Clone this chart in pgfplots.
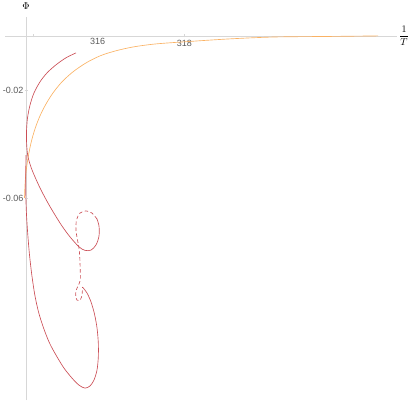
\documentclass[border=0pt]{standalone}
\usepackage{fontspec}
\setmainfont{Liberation Sans}
\usepackage{pgfplots}
\pgfplotsset{compat=1.18}
\definecolor{redc}{RGB}{203,78,86}
\definecolor{orac}{RGB}{250,178,100}
\definecolor{axc}{RGB}{215,215,215}
\definecolor{txc}{RGB}{90,90,90}

\begin{document}
\begin{tikzpicture}
\begin{axis}[
  at={(5pt,9pt)}, anchor=south west,
  scale only axis, width=392pt, height=383pt,
  xmin=-0.483, xmax=8.529, ymin=-0.1348, ymax=0.0070,
  axis lines=middle,
  axis line style={draw=axc, line width=0.5pt, -},
  xtick={0.168,3.639}, xticklabels={,318},
  extra x ticks={1.648}, extra x tick labels={316},
  extra x tick style={major tick length=0pt},
  ytick={-0.02,-0.06}, yticklabels={-0.02,-0.06},
  major tick length=3pt,
  tick style={draw=axc},
  ticklabel style={font=\fontsize{9}{10}\selectfont, text=txc},
  xticklabel style={anchor=north, inner sep=0pt, yshift=-2.5pt},
  yticklabel style={anchor=east, inner sep=0pt, xshift=-1pt},
  xlabel={$\displaystyle\frac{1}{T}$}, ylabel={$\Phi$},
  every axis x label/.style={at={(current axis.right of origin)}, anchor=west, inner sep=0pt, xshift=2pt},
  every axis y label/.style={at={(current axis.above origin)}, anchor=south, inner sep=0pt, yshift=7pt},
  clip=false,
]
% orange branch
\addplot[orac, line width=0.65pt, smooth, tension=0.5] coordinates {
  (-0.0345,-0.0600) (-0.0230,-0.0552) (0,-0.0504) (0.0460,-0.0452) (0.1149,-0.0396)
  (0.2069,-0.0344) (0.3218,-0.0296) (0.4598,-0.0252) (0.6207,-0.0211) (0.8276,-0.0170)
  (1.0805,-0.0133) (1.3793,-0.0100) (1.7011,-0.0074) (2.0460,-0.0056) (2.4598,-0.0041)
  (2.9655,-0.0030) (3.6322,-0.0022) (4.6897,-0.0011) (5.7241,-0.0004) (6.9885,-0.0002)
  (8.0920,0)
};
% red, upper solid part
\addplot[redc, line width=0.65pt, smooth, tension=0.5] coordinates {
  (1.149,-0.0063) (0.920,-0.0081) (0.690,-0.0107) (0.483,-0.0137) (0.322,-0.0170)
  (0.184,-0.0211) (0.092,-0.0256) (0.034,-0.0304) (0.011,-0.0356) (0.016,-0.0404)
  (0.046,-0.0448) (0.138,-0.0496) (0.322,-0.0563) (0.506,-0.0619) (0.667,-0.0663)
  (0.828,-0.0704) (1.011,-0.0744) (1.218,-0.0781) (1.356,-0.0794) (1.494,-0.0793)
  (1.609,-0.0774) (1.678,-0.0741) (1.678,-0.0704) (1.632,-0.0678)
};
% red, dashed part
\addplot[redc, line width=0.65pt, smooth, tension=0.5, dash pattern=on 3.5pt off 2.5pt] coordinates {
  (1.632,-0.0678) (1.517,-0.0656) (1.379,-0.0648) (1.241,-0.0656) (1.161,-0.0681)
  (1.149,-0.0719) (1.184,-0.0756) (1.218,-0.0785) (1.237,-0.0822) (1.246,-0.0867)
  (1.248,-0.0904) (1.195,-0.0926) (1.149,-0.0944) (1.142,-0.0963) (1.172,-0.0978)
  (1.230,-0.0980) (1.276,-0.0967) (1.294,-0.0948) (1.299,-0.0930)
};
% red, lower solid loop
\addplot[redc, line width=0.65pt, smooth, tension=0.5] coordinates {
  (1.2989,-0.0930) (1.4023,-0.0952) (1.4943,-0.0985) (1.5747,-0.1030) (1.6322,-0.1081)
  (1.6621,-0.1137) (1.6621,-0.1189) (1.6322,-0.1237) (1.5632,-0.1274) (1.4713,-0.1296)
  (1.3563,-0.1304) (1.2184,-0.1293) (1.0575,-0.1267) (0.8736,-0.1230) (0.7011,-0.1185)
  (0.5402,-0.1137) (0.4023,-0.1081) (0.2874,-0.1022) (0.2023,-0.0959) (0.1333,-0.0885)
  (0.0805,-0.0811) (0.0414,-0.0737) (0.0115,-0.0663) (-0.0046,-0.0589) (-0.0069,-0.0515)
  (0,-0.0441)
};
\end{axis}
\pgfresetboundingbox
\path (0,0) rectangle (411pt,409pt);
\end{tikzpicture}
\end{document}
